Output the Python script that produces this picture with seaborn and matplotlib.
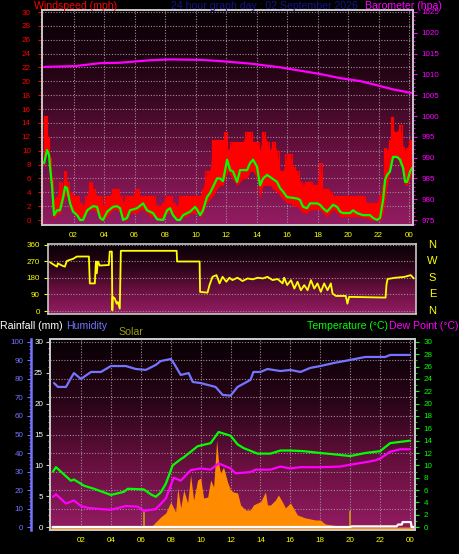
import numpy as np
import matplotlib
matplotlib.use("Agg")
import matplotlib.pyplot as plt
import seaborn as sns
from matplotlib.colors import LinearSegmentedColormap
from matplotlib.ticker import MultipleLocator

sns.set_style("dark")
plt.rcParams['font.family'] = ['Liberation Sans', 'DejaVu Sans']

# ---------------- data ----------------
hour_ticks = [2, 4, 6, 8, 10, 12, 14, 16, 18, 20, 22, 24]
hour_labels = ["02", "04", "06", "08", "10", "12", "14", "16", "18", "20", "22", "00"]

# average wind speed (mph)
wind_hours = [0.07, 0.26, 0.39, 0.46, 0.59, 0.72, 0.92, 1.11, 1.31, 1.44, 1.57, 1.77, 1.97, 2.23, 2.43, 2.62,
              2.89, 3.28, 3.54, 3.74, 3.93, 4.2, 4.59, 4.85, 5.05, 5.25, 5.51, 5.7, 6.16, 6.56, 6.82, 7.21,
              7.48, 7.87, 8.13, 8.33, 8.52, 8.79, 8.98, 9.18, 9.64, 9.97, 10.1, 10.3, 10.49, 10.75, 10.95,
              11.15, 11.41, 11.61, 11.8, 12.07, 12.26, 12.46, 12.72, 12.92, 13.38, 13.57, 13.77, 14.03,
              14.23, 14.43, 14.69, 14.89, 15.34, 15.54, 15.74, 16.0, 16.39, 16.66, 16.85, 17.05, 17.31,
              17.51, 17.97, 18.16, 18.36, 18.62, 18.82, 19.02, 19.28, 19.48, 19.67, 20.13, 20.33, 20.59,
              20.98, 21.44, 21.64, 21.9, 22.1, 22.3, 22.43, 22.56, 22.75, 22.95, 23.21, 23.41, 23.61,
              23.74, 23.87, 24.07, 24.2]
wind_avg = [8.2, 10.1, 9.4, 7.6, 4.8, 0.7, 1.4, 1.4, 3.2, 4.8, 4.6, 2.4, 1.2, 0.7, 0.0, 0.0,
            1.4, 2.0, 1.9, 0.3, 0.0, 1.2, 1.9, 2.0, 1.7, 0.0, 0.3, 1.4, 1.7, 2.4, 1.4, 1.0,
            0.1, 0.0, 1.4, 1.7, 0.7, 0.0, 0.0, 0.7, 1.2, 1.9, 1.5, 0.7, 1.4, 3.3, 3.9,
            4.8, 6.0, 6.0, 5.6, 8.7, 7.2, 7.0, 5.5, 7.2, 7.2, 8.2, 8.7, 7.7,
            5.0, 6.0, 6.5, 6.2, 5.5, 4.6, 4.1, 3.3, 3.2, 3.1, 2.9, 1.9, 1.7,
            2.4, 2.4, 2.2, 1.7, 1.2, 1.7, 2.2, 1.9, 1.2, 1.0, 1.0, 1.4, 1.0,
            0.7, 0.7, 0.3, 0.0, 0.3, 2.9, 5.8, 6.5, 7.0, 9.1, 9.1, 8.7, 7.5,
            5.5, 5.5, 7.0, 7.5]

# gust envelope (mph)
gust_hours = [0.07, 0.2, 0.3, 0.46, 0.59, 0.72, 0.92, 1.11, 1.31, 1.44, 1.57, 1.77, 1.97, 2.23, 2.43, 2.62,
              2.89, 3.08, 3.28, 3.54, 3.74, 3.93, 4.2, 4.39, 4.59, 4.85, 5.05, 5.25, 5.51, 5.7, 5.9, 6.16,
              6.36, 6.56, 6.82, 7.02, 7.21, 7.48, 7.67, 7.87, 8.13, 8.33, 8.52, 8.79, 8.98, 9.18, 9.44,
              9.64, 9.84, 10.1, 10.3, 10.49, 10.75, 10.95, 11.15, 11.41, 11.61, 11.8, 11.93, 12.13, 12.39,
              12.72, 13.11, 13.38, 13.57, 13.77, 14.03, 14.23, 14.43, 14.69, 14.89, 15.08, 15.34, 15.54,
              15.74, 16.0, 16.2, 16.39, 16.66, 16.85, 17.05, 17.31, 17.51, 17.7, 17.97, 18.16, 18.36,
              18.62, 18.82, 19.02, 19.28, 19.48, 19.67, 19.93, 20.13, 20.33, 20.59, 20.79, 20.98, 21.25,
              21.44, 21.64, 21.9, 22.1, 22.3, 22.43, 22.56, 22.75, 22.89, 23.02, 23.21, 23.41, 23.61,
              23.74, 23.87, 24.07, 24.2]
gust_hi = [15, 15, 12, 9, 6, 3, 3.3, 5.5, 4, 7, 5.5, 4, 3.5, 3.5, 2.5, 2,
           3.5, 5.5, 4.5, 3.5, 3.5, 2, 3.5, 3.5, 4.5, 4.5, 3.5, 2.5, 3.5, 3.5, 3.5, 4.5,
           3.5, 3.5, 3.5, 3.5, 3.5, 2, 2, 2.5, 3.5, 3.5, 2.5, 2, 3.5, 3.5, 3.5,
           3.5, 3.5, 3.5, 3.5, 4.5, 7, 7, 11.5, 11.5, 11.5, 11.5, 12.7, 10, 11.3,
           11.3, 11.3, 12.7, 12.7, 11.3, 11.3, 10, 12.7, 11.3, 10, 11.3, 10, 7,
           7, 9.5, 9.5, 7.7, 7, 5.5, 5, 5.5, 5.5, 5, 5, 8.2, 4.5,
           4.5, 4, 3.5, 3.5, 3.5, 3.5, 3.5, 3.5, 3.5, 3.5, 3.5, 3.5, 2.5,
           2.5, 2.5, 2.5, 3.5, 5, 10.4, 10, 11.5, 14.9, 12.7, 12.7, 13.7, 10.5,
           10, 10.4, 11.5, 9]
gust_lo = [8, 10, 10, 6, 2, 0.3, 0.8, 1, 2.5, 3.5, 3.5, 1.5, 1, 0.5, 0, 0,
           1, 1.5, 1.5, 1, 0, 0, 0.5, 1, 1.5, 1.5, 1, 0, 0, 1, 1, 1,
           1.5, 1.5, 1, 0.5, 0.5, 0, 0, 0, 1, 1, 0.5, 0, 0, 0.5, 0.5,
           1, 1, 1, 0.5, 1, 2.5, 3, 3.5, 4.5, 5, 5, 6, 7, 6,
           5, 6, 6, 7, 7, 6, 3.3, 5, 5, 5, 4.5, 4, 3.5,
           3, 2.5, 2.5, 2, 2, 1.5, 1, 1, 1.5, 1.5, 1.5, 1.5, 1,
           0.5, 1, 1.5, 1, 0.5, 0.5, 0.5, 0.5, 0.5, 0.5, 0.5, 0.3, 0.3,
           0, 0, 0, 0, 1, 3, 5, 7, 9, 9, 9, 8, 7,
           5, 5, 6, 7]

# barometer (hpa)
baro_hours = [0.07, 2.1, 3.74, 5.05, 6.03, 7.02, 8.33, 10.3, 11.61, 13.57, 15.54, 16.85, 18.16, 19.48,
              20.79, 22.1, 22.95, 24.07, 24.26]
baro_hpa = [1011.8, 1012.0, 1012.7, 1012.8, 1013.1, 1013.4, 1013.6, 1013.5, 1013.2, 1012.6, 1011.7,
            1010.9, 1010.1, 1009.1, 1008.4, 1007.2, 1006.4, 1005.6, 1005.5]

# wind direction (degrees)
dir_hours = [0.0, 0.2, 0.46, 0.52, 0.79, 0.98, 1.11, 1.31, 1.51, 1.77, 2.56, 2.62, 2.95, 3.02, 3.08, 3.15,
             3.28, 3.87, 3.93, 4.07, 4.10, 4.13, 4.26, 4.39, 4.46, 4.59, 4.66, 8.33, 8.36, 9.84, 9.87,
             10.36, 10.49, 10.69, 10.95, 11.15, 11.35, 11.6, 11.8, 12.0, 12.33, 12.66, 13.0, 13.33,
             13.66, 14.0, 14.3, 14.64, 14.97, 15.3, 15.4, 15.6, 15.85, 16.07, 16.28, 16.5, 16.72,
             16.94, 17.16, 17.38, 17.59, 17.81, 18.03, 18.25, 18.47, 18.58, 18.8, 19.45, 19.56, 19.67,
             22.07, 22.13, 22.2, 22.72, 23.28, 23.72, 23.93]
dir_deg = [265, 254, 241, 259, 247, 241, 272, 278, 283, 296, 296, 150, 150, 269, 205, 269,
           247, 250, 323, 323, 4, 77, 68, 40, 49, 13, 327, 327, 269, 269, 104,
           100, 141, 186, 195, 150, 186, 159, 181, 168, 181, 163, 177, 172,
           181, 177, 186, 168, 174, 150, 181, 141, 168, 122, 159, 113, 141,
           113, 168, 122, 150, 104, 150, 113, 150, 95, 82, 82, 40, 77,
           73, 144, 174, 181, 185, 195, 177]

# temperature / dew point (deg C)
temp_hours = [0.13, 0.33, 1.33, 1.53, 2.2, 2.87, 4.0, 4.87, 5.13, 6.2, 6.67, 7.0, 7.33, 7.67, 8.13, 8.67,
              8.87, 9.8, 10.67, 11.2, 12.0, 12.47, 12.87, 13.8, 14.67, 15.33, 16.0, 16.87, 18.0, 18.87,
              20.0, 21.0, 22.0, 22.67, 23.33, 24.0]
temp_c = [9.0, 9.7, 7.5, 7.7, 6.7, 6.2, 5.2, 5.7, 6.2, 6.1, 5.3, 4.9, 5.6, 7.0, 10.0, 11.0,
          11.3, 13.1, 13.6, 15.4, 14.8, 13.4, 12.8, 11.9, 11.9, 12.4, 12.4, 12.3, 12.0, 11.8,
          11.5, 12.0, 12.3, 13.6, 13.8, 14.0]
dew_hours = [0.13, 0.33, 1.0, 1.53, 2.0, 2.47, 3.33, 4.0, 5.0, 5.8, 6.2, 7.0, 7.67, 8.2, 8.67, 9.33,
             10.0, 10.67, 11.2, 12.0, 12.33, 13.33, 13.67, 14.67, 15.33, 16.0, 16.67, 18.0, 19.33,
             20.0, 21.0, 21.67, 22.0, 22.67, 23.33, 24.0]
dew_c = [4.9, 5.3, 3.8, 4.3, 3.4, 3.1, 2.9, 2.8, 3.4, 3.3, 2.6, 2.9, 4.6, 8.0, 7.5, 9.2,
         9.5, 9.3, 10.3, 9.5, 8.7, 8.9, 9.3, 9.3, 9.8, 9.5, 9.7, 9.7, 9.8,
         10.1, 10.5, 10.8, 11.1, 12.2, 12.6, 12.6]

# humidity (%)
hum_hours = [0.2, 0.47, 1.0, 1.33, 1.53, 2.0, 2.67, 3.33, 4.0, 5.0, 5.67, 6.33, 7.0, 7.33, 8.0, 8.2,
             8.67, 9.2, 9.47, 10.0, 11.0, 11.47, 12.0, 12.47, 13.33, 13.53, 14.0, 14.47, 15.33, 16.0,
             16.67, 17.33, 18.0, 18.87, 20.0, 21.0, 22.33, 22.67, 24.0]
hum_pct = [77.8, 75.7, 75.7, 80.5, 83.2, 80.0, 83.8, 83.8, 87.0, 87.0, 85.4, 84.9, 87.6, 89.7, 90.8, 88.6,
           82.2, 83.2, 78.4, 77.8, 75.7, 71.4, 71.0, 75.7, 79.5, 83.8, 83.8, 85.4, 84.3, 84.9,
           83.8, 86.0, 87.0, 88.6, 90.3, 91.9, 91.9, 93.0, 93.0]

# solar radiation (W/m2)
solar_hours = [0.0, 6.67, 7.33, 7.67, 8.0, 8.33, 8.47, 8.67, 8.87, 9.13, 9.33, 9.53, 9.8, 10.0, 10.2,
               10.47, 10.67, 10.87, 11.07, 11.2, 11.33, 11.53, 11.8, 12.0, 12.2, 12.47, 12.67, 13.0,
               13.33, 13.53, 13.8, 14.0, 14.33, 14.47, 14.67, 15.0, 15.2, 15.47, 15.67, 16.0, 16.2,
               16.47, 17.0, 17.67, 18.0, 18.33, 18.87, 19.33, 19.67, 24.3]
solar_wm2 = [0, 0, 54, 76, 135, 81, 211, 103, 200, 130, 281, 146, 254, 265, 157,
             162, 254, 216, 470, 346, 292, 324, 243, 200, 189, 184, 119, 92,
             92, 119, 130, 135, 189, 119, 119, 146, 173, 135, 103, 130, 103,
             65, 49, 38, 38, 16, 10, 5, 0, 0]
solar_spike_hours = [6.2, 20.0]
solar_spike_wm2 = [92, 86]

# rainfall (mm)
rain_hours = [0.1, 20.0, 20.1, 23.1, 23.2, 23.45, 23.5, 24.05, 24.1, 24.3]
rain_mm = [0, 0, 0.1, 0.1, 0.4, 0.4, 0.8, 0.8, 0, 0]

# ---------------- styling ----------------
RED = '#ff0000'
GREEN = '#00ff00'
MAGENTA = '#ff00ff'
YELLOW = '#ffff00'
HUMID = '#7474ff'
ORANGE = '#ff8c00'
FRAME = '#c8c8c8'
GRID = '#a08a9a'
TICKFS = 5.8

fig = plt.figure(figsize=(4.6, 5.54), dpi=100, facecolor='black')
W, H = 460, 554


def add_axes(l, t, r, b):
    return fig.add_axes([l / W, 1 - b / H, (r - l) / W, (b - t) / H])


cmap = LinearSegmentedColormap.from_list('bg', ['#060003', '#2a0518', '#6a1040', '#931c62'])


def background(ax):
    grad = np.linspace(1, 0, 256).reshape(-1, 1)
    ax.imshow(grad, aspect='auto', cmap=cmap, extent=[0, 1, 0, 1], transform=ax.transAxes,
              zorder=0, origin='lower', interpolation='bilinear')


def frame(ax):
    for s in ax.spines.values():
        s.set_color(FRAME)
        s.set_linewidth(1.2)


def dotted_grid(ax, xs=None, ys=None):
    if xs is not None:
        for x in xs:
            ax.axvline(x, color=GRID, lw=0.8, ls=(0, (1, 1.5)), zorder=1)
    if ys is not None:
        for y in ys:
            ax.axhline(y, color=GRID, lw=0.8, ls=(0, (1, 1.5)), zorder=1)


# ---------------- top panel: wind & barometer ----------------
ax1 = add_axes(42, 10, 413, 225)
ax1.set_facecolor('black')
background(ax1)
ax1.set_xlim(-0.07, 24.26)
ax1.set_ylim(-0.72, 30.29)
dotted_grid(ax1, xs=hour_ticks, ys=list(range(2, 31, 2)))
ax1.fill_between(gust_hours, gust_lo, gust_hi, color=RED, lw=0, zorder=3)
ax1.vlines(gust_hours, gust_lo, gust_hi, color=RED, lw=1.0, zorder=3)
ax1.step(gust_hours, gust_hi, where='mid', color=RED, lw=0.9, zorder=3)
sns.lineplot(x=wind_hours, y=wind_avg, ax=ax1, color=GREEN, linewidth=1.6,
             estimator=None, sort=False, legend=False, zorder=4)
ax1.set_xticks(hour_ticks)
ax1.set_xticklabels(hour_labels)
ax1.xaxis.set_minor_locator(MultipleLocator(1))
ax1.yaxis.set_major_locator(MultipleLocator(2))
ax1.yaxis.set_minor_locator(MultipleLocator(0.5))
ax1.tick_params(axis='x', which='major', colors=FRAME, labelcolor=YELLOW, labelsize=TICKFS,
                length=3, pad=2, direction='out')
ax1.tick_params(axis='x', which='minor', colors=FRAME, length=2)
ax1.tick_params(axis='y', which='major', colors=RED, labelcolor=RED, labelsize=TICKFS,
                length=3, pad=5, left=True)
ax1.tick_params(axis='y', which='minor', colors=RED, length=1.5, left=True)
frame(ax1)

ax1b = ax1.twinx()
ax1b.set_ylim(973.8, 1025.48)
sns.lineplot(x=baro_hours, y=baro_hpa, ax=ax1b, color=MAGENTA, linewidth=1.6,
             estimator=None, sort=False, legend=False)
ax1b.yaxis.set_major_locator(MultipleLocator(5))
ax1b.yaxis.set_minor_locator(MultipleLocator(1))
ax1b.tick_params(axis='y', which='major', colors=MAGENTA, labelcolor=MAGENTA, labelsize=TICKFS,
                 length=3, pad=3)
ax1b.tick_params(axis='y', which='minor', colors=MAGENTA, length=1.5)
ax1b.set_ylabel('')
ax1.set_ylabel('')
ax1b.grid(False)
frame(ax1b)

fig.text(34 / W, 1 - 6 / H, 'Windspeed (mph)', color=RED, fontsize=7.6, va='center', ha='left')
fig.text(264 / W, 1 - 6 / H, '24 hour graph day : 02 September 2026', color='#14148c', fontsize=7.6,
         va='center', ha='center')
fig.text(442 / W, 1 - 6 / H, 'Barometer (hpa)', color=MAGENTA, fontsize=7.6, va='center', ha='right')

# ---------------- middle panel: wind direction ----------------
ax2 = add_axes(48, 244, 416, 314)
ax2.set_facecolor('black')
background(ax2)
ax2.set_xlim(-0.13, 24.07)
ax2.set_ylim(-16, 364)
dotted_grid(ax2, ys=[0, 90, 180, 270, 360])
sns.lineplot(x=dir_hours, y=dir_deg, ax=ax2, color=YELLOW, linewidth=1.3,
             estimator=None, sort=False, legend=False, zorder=4)
ax2.set_xticks([])
ax2.set_yticks([0, 90, 180, 270, 360])
ax2.tick_params(axis='y', colors=YELLOW, labelcolor=YELLOW, labelsize=TICKFS, length=3, pad=3, left=True)
ax2.set_ylabel('')
frame(ax2)
for lab, deg in zip(['N', 'W', 'S', 'E', 'N'], [360, 270, 180, 90, 0]):
    ax2.text(1.045, (deg + 16) / 380, lab, transform=ax2.transAxes, color=YELLOW, fontsize=8,
             ha='center', va='center')

# ---------------- bottom panel: temperature etc ----------------
ax3 = add_axes(50, 339, 415, 530)
ax3.set_facecolor('black')
background(ax3)
ax3.set_xlim(-0.07, 24.33)
ax3.set_ylim(-16.2, 1016.2)
dotted_grid(ax3, xs=hour_ticks, ys=list(range(100, 1001, 100)))
ax3.fill_between(solar_hours, -16.2, solar_wm2, color=ORANGE, lw=0, zorder=2)
ax3.vlines(solar_spike_hours, 0, solar_spike_wm2, color='#c8a010', lw=1.2, zorder=2)
ax3.set_yticks([])
ax3.set_xticks(hour_ticks)
ax3.set_xticklabels(hour_labels)
ax3.xaxis.set_minor_locator(MultipleLocator(1))
ax3.tick_params(axis='x', which='major', colors=FRAME, labelcolor=YELLOW, labelsize=TICKFS,
                length=3, pad=2)
ax3.tick_params(axis='x', which='minor', colors=FRAME, length=2)
frame(ax3)

# rainfall axis (left, white)
ax3r = ax3.twinx()
ax3r.yaxis.tick_left()
ax3r.set_ylim(-0.486, 30.486)
sns.lineplot(x=rain_hours, y=rain_mm, ax=ax3r, color='white', linewidth=1.6,
             estimator=None, sort=False, legend=False)
ax3r.yaxis.set_major_locator(MultipleLocator(5))
ax3r.yaxis.set_minor_locator(MultipleLocator(1))
ax3r.tick_params(axis='y', which='major', colors=FRAME, labelcolor='white', labelsize=TICKFS,
                 length=3, pad=2, left=True, right=False, labelleft=True, labelright=False)
ax3r.tick_params(axis='y', which='minor', colors=FRAME, length=1.5, left=True, right=False)
ax3r.set_ylabel('')
frame(ax3r)

# humidity axis (outer left, blue)
ax3h = ax3.twinx()
ax3h.yaxis.tick_left()
ax3h.spines['left'].set_position(('outward', 14))
ax3h.set_ylim(-1.62, 101.62)
sns.lineplot(x=hum_hours, y=hum_pct, ax=ax3h, color=HUMID, linewidth=1.6,
             estimator=None, sort=False, legend=False)
ax3h.yaxis.set_major_locator(MultipleLocator(10))
ax3h.yaxis.set_minor_locator(MultipleLocator(2))
ax3h.tick_params(axis='y', which='major', colors=HUMID, labelcolor=HUMID, labelsize=TICKFS,
                 length=3, pad=2, left=True, right=False, labelleft=True, labelright=False)
ax3h.tick_params(axis='y', which='minor', colors=HUMID, length=1.5, left=True, right=False)
ax3h.set_ylabel('')
for s in ['top', 'right', 'bottom']:
    ax3h.spines[s].set_visible(False)
ax3h.spines['left'].set_color(HUMID)
ax3h.spines['left'].set_linewidth(1.8)

# temperature / dew point axis (right, green)
ax3t = ax3.twinx()
ax3t.set_ylim(-0.486, 30.486)
sns.lineplot(x=dew_hours, y=dew_c, ax=ax3t, color=MAGENTA, linewidth=1.6,
             estimator=None, sort=False, legend=False)
sns.lineplot(x=temp_hours, y=temp_c, ax=ax3t, color=GREEN, linewidth=1.6,
             estimator=None, sort=False, legend=False)
ax3t.yaxis.set_major_locator(MultipleLocator(2))
ax3t.yaxis.set_minor_locator(MultipleLocator(1))
ax3t.tick_params(axis='y', which='major', colors=GREEN, labelcolor=GREEN, labelsize=TICKFS,
                 length=3, pad=3)
ax3t.tick_params(axis='y', which='minor', colors=GREEN, length=1.5)
ax3t.set_ylabel('')
frame(ax3t)

for a in [ax1, ax1b, ax2, ax3, ax3r, ax3h, ax3t]:
    a.set_xlabel('')
    a.grid(False)

fig.text(0 / W, 1 - 326 / H, 'Rainfall (mm)', color='white', fontsize=7.6, va='center', ha='left')
fig.text(66 / W, 1 - 326 / H, 'Humidity', color=HUMID, fontsize=7.6, va='center', ha='left')
fig.text(118 / W, 1 - 332 / H, 'Solar', color='#9c9c10', fontsize=7.6, va='center', ha='left')
fig.text(388 / W, 1 - 326 / H, 'Temperature (°C)', color=GREEN, fontsize=7.6, va='center', ha='right')
fig.text(389 / W, 1 - 326 / H, 'Dew Point (°C)', color=MAGENTA, fontsize=7.6, va='center', ha='left')

fig.savefig('out.png', dpi=100, facecolor='black')
